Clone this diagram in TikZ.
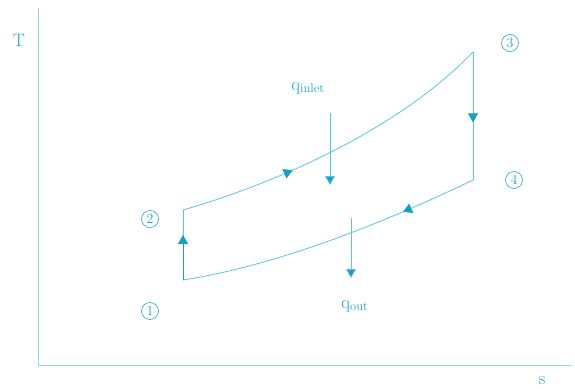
\documentclass[tikz,border=0pt]{standalone}
\usetikzlibrary{arrows.meta,decorations.markings}
\definecolor{axisc}{HTML}{8ED8E8}
\definecolor{linec}{HTML}{5CC4DC}
\definecolor{tipc}{HTML}{1A9CC4}
\definecolor{textc}{HTML}{22A4C4}
\tikzset{
  axisline/.style={draw=axisc,line width=1pt},
  cycleline/.style={draw=linec,line width=0.8pt},
  lbl/.style={text=textc,font=\fontsize{18}{20}\selectfont,inner sep=0pt},
  circ/.style={circle,draw=textc,line width=0.6pt,text=textc,minimum size=17pt,inner sep=0pt,font=\fontsize{14}{15}\selectfont},
  tiparrow/.style={-{Triangle[length=9pt,width=10pt,fill=tipc]},draw=linec,line width=0.8pt},
  midtip/.style={postaction={decorate},decoration={markings,mark=at position #1 with {\arrow{Triangle[length=9pt,width=10pt,color=tipc]}}}}
}
\begin{document}
\begin{tikzpicture}[x=1pt,y=-1pt]
\useasboundingbox (0,0) rectangle (575,388);
\coordinate (O) at (38,365);
\coordinate (Ytop) at (38,8);
\coordinate (Xend) at (572,365);
\draw[axisline] (Ytop) -- (O) -- (Xend);
\node[lbl] (T) at (19,40) {T};
\node[lbl] (S) at (542,381) {s};
\coordinate (p1) at (183,280);
\coordinate (p2) at (183,210);
\coordinate (p3) at (473,52);
\coordinate (p4) at (473,180);
\coordinate (p12) at (183,235);
% cycle
\draw[cycleline] (p1) -- (p2);
\draw[cycleline,midtip=0.35] (p2) .. controls (280,182) and (400,128) .. (p3);
\draw[cycleline,midtip=0.55] (p3) -- (p4);
\draw[cycleline,midtip=0.25] (p4) .. controls (390,220) and (280,265) .. (p1);
\draw[-{Triangle[length=9pt,width=10pt]},draw=tipc,color=tipc,line width=0.8pt] (p1) -- (p12);
% heat arrows
\coordinate (qa) at (330,113);
\coordinate (qb) at (330,185);
\coordinate (qc) at (351,218);
\coordinate (qd) at (351,278);
\draw[tiparrow] (qa) -- (qb);
\draw[tiparrow] (qc) -- (qd);
\node[lbl] (qin) at (308,88) {q\textsubscript{inlet}};
\node[lbl] (qout) at (355,306) {q\textsubscript{out}};
% state labels
\node[circ] (n1) at (150,311) {1};
\node[circ] (n2) at (150,219) {2};
\node[circ] (n3) at (510,43) {3};
\node[circ] (n4) at (514,180) {4};
\end{tikzpicture}
\end{document}
